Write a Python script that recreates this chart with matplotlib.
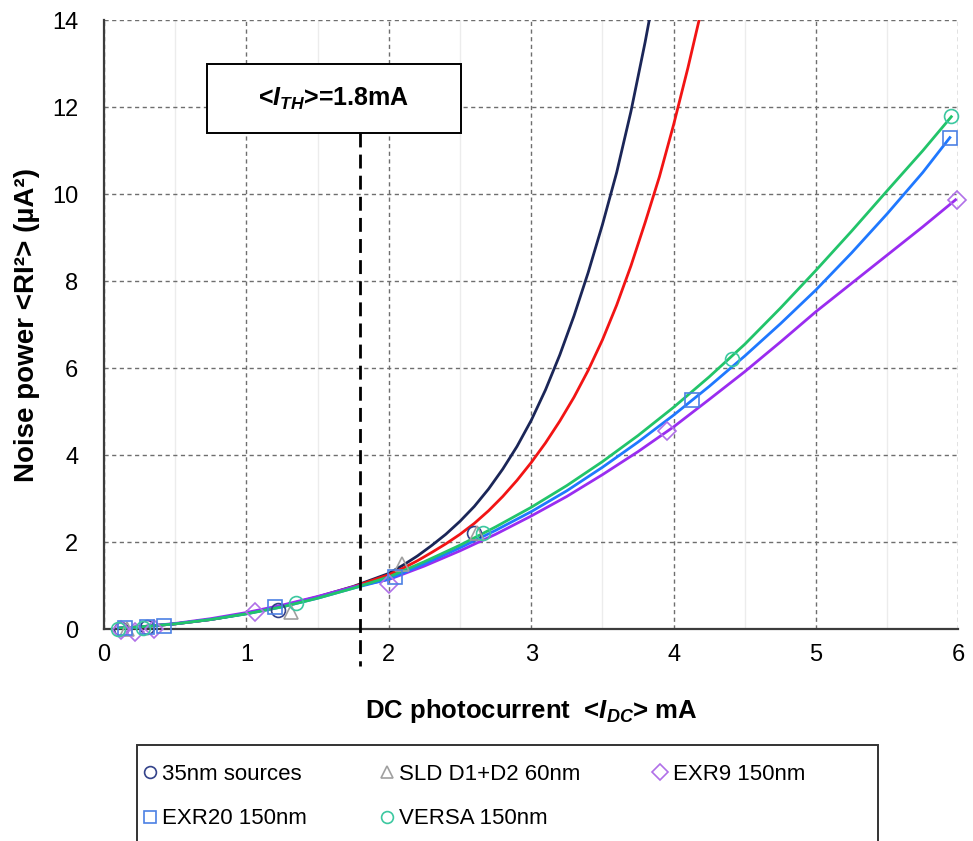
"""
Noise power vs DC photocurrent, measured points and fitted curves
for the different sources, threshold <I_TH> marked with a box
"""

import matplotlib
matplotlib.use("Agg")
import matplotlib.pyplot as plt
from matplotlib.patches import Rectangle

plt.rcParams['font.family'] = ['Liberation Sans', 'DejaVu Sans']
plt.rcParams['mathtext.fontset'] = 'custom'
plt.rcParams['mathtext.it'] = 'Liberation Sans:italic:bold'
plt.rcParams['mathtext.rm'] = 'Liberation Sans:bold'

# measured points
x_35nm = [0.12, 0.30, 1.22, 2.60]
y_35nm = [0.00, 0.04, 0.44, 2.20]
x_sld = [0.16, 1.31, 2.09, 2.62]
y_sld = [0.01, 0.39, 1.50, 2.22]
x_exr9 = [0.12, 0.22, 0.35, 1.06, 2.00, 3.95, 5.99]
y_exr9 = [-0.03, -0.06, 0.00, 0.39, 1.03, 4.55, 9.87]
x_exr20 = [0.15, 0.30, 0.42, 1.20, 2.04, 4.13, 5.94]
y_exr20 = [0.02, 0.05, 0.08, 0.50, 1.20, 5.27, 11.30]
x_versa = [0.10, 0.27, 1.35, 2.66, 4.41, 5.95]
y_versa = [0.00, 0.03, 0.60, 2.20, 6.20, 11.80]

# fitted curves
fit_x_35nm = [0.1, 0.25, 0.5, 0.75, 1.0, 1.25, 1.5, 1.75, 2.0, 2.1, 2.2, 2.3, 2.4, 2.5, 2.6,
              2.7, 2.8, 2.9, 3.0, 3.1, 3.2, 3.3, 3.4, 3.5, 3.6, 3.7, 3.8, 3.84]
fit_y_35nm = [0.02, 0.05, 0.12, 0.22, 0.36, 0.53, 0.74, 0.98, 1.28, 1.47, 1.68, 1.92, 2.18, 2.48, 2.82,
              3.22, 3.68, 4.20, 4.80, 5.50, 6.30, 7.20, 8.20, 9.30, 10.50, 11.90, 13.50, 14.2]
fit_x_sld = [0.1, 0.25, 0.5, 0.75, 1.0, 1.25, 1.5, 1.75, 2.0, 2.1, 2.2, 2.3, 2.4, 2.5, 2.6, 2.7,
             2.8, 2.9, 3.0, 3.1, 3.2, 3.3, 3.4, 3.5, 3.6, 3.7, 3.8, 3.9, 4.0, 4.1, 4.2]
fit_y_sld = [0.02, 0.05, 0.12, 0.22, 0.36, 0.53, 0.73, 0.97, 1.25, 1.40, 1.57, 1.76, 1.96, 2.18, 2.43, 2.72,
             3.05, 3.42, 3.83, 4.28, 4.78, 5.33, 5.95, 6.65, 7.45, 8.35, 9.35, 10.40, 11.60, 12.90, 14.3]
fit_x_exr9 = [0.1, 0.25, 0.5, 0.75, 1.0, 1.25, 1.5, 1.75, 2.0, 2.25, 2.5, 2.75, 3.0, 3.25, 3.5,
              3.75, 4.0, 4.25, 4.5, 4.75, 5.0, 5.25, 5.5, 5.75, 5.98]
fit_y_exr9 = [0.02, 0.05, 0.13, 0.24, 0.38, 0.55, 0.75, 0.97, 1.14, 1.45, 1.80, 2.18, 2.60, 3.05, 3.55,
              4.08, 4.65, 5.28, 5.92, 6.60, 7.30, 7.95, 8.60, 9.25, 9.87]
fit_x_exr20 = [0.1, 0.25, 0.5, 0.75, 1.0, 1.25, 1.5, 1.75, 2.0, 2.25, 2.5, 2.75, 3.0, 3.25, 3.5,
               3.75, 4.0, 4.25, 4.5, 4.75, 5.0, 5.25, 5.5, 5.75, 5.94]
fit_y_exr20 = [0.02, 0.05, 0.12, 0.22, 0.35, 0.51, 0.71, 0.94, 1.15, 1.50, 1.87, 2.27, 2.70, 3.18, 3.72,
               4.30, 4.92, 5.58, 6.28, 7.02, 7.80, 8.65, 9.55, 10.50, 11.30]
fit_x_versa = [0.1, 0.25, 0.5, 0.75, 1.0, 1.25, 1.5, 1.75, 2.0, 2.25, 2.5, 2.75, 3.0, 3.25, 3.5,
               3.75, 4.0, 4.25, 4.5, 4.75, 5.0, 5.25, 5.5, 5.75, 5.95]
fit_y_versa = [0.02, 0.05, 0.12, 0.22, 0.35, 0.51, 0.71, 0.94, 1.20, 1.55, 1.93, 2.35, 2.80, 3.30, 3.85,
               4.45, 5.10, 5.80, 6.55, 7.38, 8.25, 9.15, 10.08, 11.00, 11.78]

threshold = 1.8
threshold_text = r'<$I_{TH}$>=1.8mA'

x_ticks = [0, 1, 2, 3, 4, 5, 6]
y_ticks = [0, 2, 4, 6, 8, 10, 12, 14]


def main():
    fig = plt.figure(figsize=(9.73, 8.41), dpi=100)
    ax = fig.add_axes([0.107, 0.252, 0.878, 0.724])

    # curves
    ax.plot(fit_x_35nm, fit_y_35nm, color='#1b2658', lw=2.0, zorder=3)
    ax.plot(fit_x_sld, fit_y_sld, color='#f21414', lw=2.0, zorder=3)
    ax.plot(fit_x_exr9, fit_y_exr9, color='#9a2cf0', lw=2.0, zorder=3)
    ax.plot(fit_x_exr20, fit_y_exr20, color='#1f78ff', lw=2.0, zorder=3)
    ax.plot(fit_x_versa, fit_y_versa, color='#22c46a', lw=2.0, zorder=3)

    # points
    mk = dict(ls='none', mfc='none', ms=10, mew=1.2, clip_on=False, zorder=4)
    h1, = ax.plot(x_35nm, y_35nm, 'o', color='#33428a', label='35nm sources', **mk)
    h2, = ax.plot(x_sld, y_sld, '^', color='#a0a0a0', label='SLD D1+D2 60nm', **mk)
    h3, = ax.plot(x_exr9, y_exr9, 'D', color='#b070e8', label='EXR9 150nm', **dict(mk, ms=9))
    h4, = ax.plot(x_exr20, y_exr20, 's', color='#4c80e4', label='EXR20 150nm', **mk)
    h5, = ax.plot(x_versa, y_versa, 'o', color='#3cc8a0', label='VERSA 150nm', **mk)

    ax.set_xlim(0, 6)
    ax.set_ylim(0, 14)
    ax.set_xticks(x_ticks)
    ax.set_yticks(y_ticks)
    ax.set_xticks([0.5, 1.5, 2.5, 3.5, 4.5, 5.5], minor=True)
    ax.tick_params(which='both', length=0, labelsize=17)
    ax.tick_params(axis='x', pad=11)
    ax.tick_params(axis='y', pad=18.5)
    ax.grid(True, which='major', ls=(0, (3, 2.5)), color='#6e6e6e', lw=1.0)
    ax.grid(True, which='minor', axis='x', ls='-', color='#ececec', lw=1.0)
    ax.set_axisbelow(True)
    for s in ['top', 'right']:
        ax.spines[s].set_visible(False)
    for s in ['left', 'bottom']:
        ax.spines[s].set_color('#3c3c3c')
        ax.spines[s].set_linewidth(1.6)

    ax.set_xlabel(r'DC photocurrent  <$I_{DC}$> mA', fontsize=18.5, fontweight='bold', labelpad=22)
    ax.set_ylabel('Noise power <RI²> (µA²)', fontsize=20, fontweight='bold', labelpad=9)

    # threshold line and box
    ax.plot([threshold, threshold], [11.4, -0.85], color='black', lw=2.0,
            dashes=(5, 2.6), clip_on=False, zorder=5)
    ax.add_patch(Rectangle((0.72, 11.4), 1.79, 1.6, facecolor='white',
                           edgecolor='black', lw=1.4, zorder=6))
    ax.text(1.61, 12.2, threshold_text, ha='center', va='center',
            fontsize=18, fontweight='bold', zorder=7)

    # legend frame, bottom edge runs off the figure
    fig.patches.append(Rectangle((137 / 973, -0.05), (878 - 137) / 973, (841 - 745) / 841 + 0.05,
                                 transform=fig.transFigure, fill=False,
                                 edgecolor='#333333', lw=1.4))
    fig.legend([h1, h4, h2, h5, h3],
               ['35nm sources', 'EXR20 150nm', 'SLD D1+D2 60nm', 'VERSA 150nm', 'EXR9 150nm'],
               ncol=3, loc='upper left', bbox_to_anchor=(0.131, 0.11),
               fontsize=16, frameon=False, handlelength=0.6, handletextpad=0.25,
               columnspacing=3.3, labelspacing=1.05, borderpad=0.2, markerscale=0.85)

    plt.savefig('out.png', dpi=100)
    plt.close()


if __name__ == '__main__':
    main()
